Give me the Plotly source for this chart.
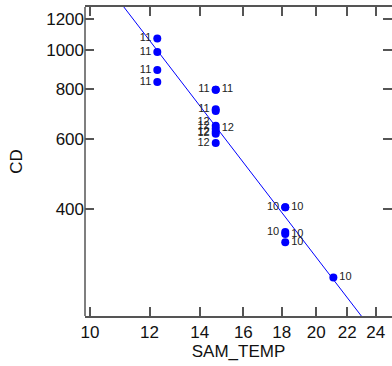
import numpy as np
import plotly.graph_objects as go

# Data (log-log scatter with fitted line)
sam_temp = [12.29, 12.29, 12.29, 12.29,
            14.70, 14.70, 14.70, 14.70, 14.70, 14.70, 14.70, 14.70, 14.70,
            18.19, 18.19, 18.19, 18.19, 18.19,
            21.08]
cd = [1072, 991, 893, 833,
      797, 797, 712, 705, 647, 636, 625, 618, 586,
      404, 404, 350, 346, 330,
      269]
labels = ["11", "11", "11", "11",
          "11", "11", "11", "12", "12", "12", "12", "12", "12",
          "10", "10", "10", "10", "10",
          "10"]
label_pos = ["middle left", "middle left", "middle left", "middle left",
             "middle left", "middle right", "middle left", "bottom left", "middle left",
             "middle right", "middle left", "middle left", "middle left",
             "middle left", "middle right", "middle left", "middle right", "middle right",
             "middle right"]

x_ticks = [10, 12, 14, 16, 18, 20, 22, 24]
y_ticks = [400, 600, 800, 1000, 1200]

x_range = [9.848, 25.23]
y_range = [215.3, 1286]

# least squares fit in log-log space
b, a = np.polyfit(np.log10(sam_temp), np.log10(cd), 1)
fit_x = np.array(x_range)
fit_y = 10 ** (a + b * np.log10(fit_x))

fig = go.Figure()
fig.add_trace(go.Scatter(x=fit_x, y=fit_y, mode="lines",
                         line=dict(color="#0000ff", width=1), hoverinfo="skip"))
fig.add_trace(go.Scatter(x=sam_temp, y=cd, mode="markers+text",
                         marker=dict(color="#0000ff", size=8),
                         text=labels, textposition=label_pos,
                         textfont=dict(family="Liberation Sans, Arial", size=11, color="#222")))

axis_common = dict(ticks="inside", ticklen=9, tickwidth=1.5, tickcolor="#555",
                   showgrid=False, zeroline=False,
                   tickfont=dict(family="Liberation Sans, Arial", size=17, color="#111"),
                   mirror="ticks")

fig.update_layout(
    width=392, height=366,
    margin=dict(l=85, r=0, t=7, b=50),
    paper_bgcolor="white", plot_bgcolor="white",
    showlegend=False,
    font=dict(family="Liberation Sans, Arial", size=17, color="#111"),
    xaxis=dict(type="log", range=[np.log10(x_range[0]), np.log10(x_range[1])],
               tickvals=x_ticks, ticktext=[str(v) for v in x_ticks],
               showline=True, linecolor="#555", linewidth=1.5,
               title=dict(text="SAM_TEMP", standoff=4,
                          font=dict(family="Liberation Sans, Arial", size=17, color="#111")),
               **axis_common),
    yaxis=dict(type="log", range=[np.log10(y_range[0]), np.log10(y_range[1])],
               tickvals=y_ticks, ticktext=[str(v) for v in y_ticks],
               showline=False,
               title=dict(text="CD", standoff=19,
                          font=dict(family="Liberation Sans, Arial", size=17, color="#111")),
               **axis_common),
    shapes=[dict(type="line", xref="paper", yref="paper", x0=0, x1=0, y0=0, y1=1,
                 line=dict(color="#555", width=1.5))],
)

fig.write_html("out.html")
